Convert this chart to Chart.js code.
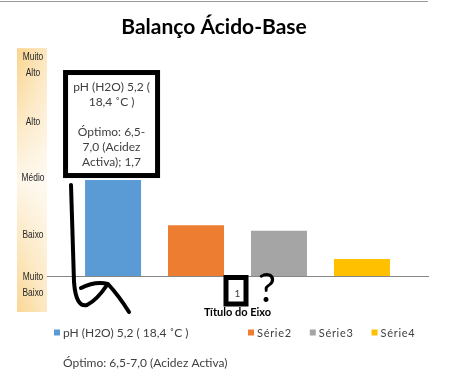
<!DOCTYPE html>
<html><head><meta charset="utf-8">
<script src="https://cdn.jsdelivr.net/npm/chart.js@4.4.0/dist/chart.umd.min.js"></script>
<style>html,body{margin:0;padding:0;background:#fff;}#wrap{width:470px;height:384px;position:relative;}</style>
</head><body><div id="wrap"><canvas id="c" width="470" height="384"></canvas></div>
<script>
const categories = ['1'];
const seriesNames = ['pH (H2O) 5,2 ( 18,4 ˚C )', 'Série2', 'Série3', 'Série4'];
const seriesNoteLine = 'Óptimo: 6,5-7,0 (Acidez Activa)';
const seriesValues = [[1.7], [0.9], [0.8], [0.3]];
const seriesColors = ['#5b9bd5', '#ed7d31', '#a5a5a5', '#ffc000'];
const levelLabels = [['Muito', 'Baixo'], ['Baixo'], ['Médio'], ['Alto'], ['Muito', 'Alto']];
const levelValues = [-0.16, 0.73, 1.73, 2.73, 3.73];
const dataLabelLines = ['pH (H2O) 5,2 (', '18,4 ˚C )', '', 'Óptimo: 6,5-', '7,0 (Acidez', 'Activa);'];
const yMin = 0, yMax = 4;

const FONT = 'Lato, "Liberation Sans", sans-serif';
const NARROW = '"Liberation Sans Narrow", "Liberation Sans", sans-serif';

const overlay = {
  id: 'overlay',
  beforeDatasetsDraw(chart) {
    const ctx = chart.ctx, a = chart.chartArea;
    // level band
    const bl = a.left - 30, br = a.left, bt = a.top - 2, bb = a.bottom + 36;
    let g = ctx.createLinearGradient(0, bt, 0, bb);
    g.addColorStop(0, '#fad48e');
    g.addColorStop(0.5, '#fef6e8');
    g.addColorStop(1, '#fad794');
    ctx.save();
    ctx.fillStyle = g;
    ctx.fillRect(bl, bt, br - bl, bb - bt);
    let h = ctx.createLinearGradient(bl, 0, br, 0);
    h.addColorStop(0, 'rgba(255,255,255,0)');
    h.addColorStop(1, 'rgba(255,255,255,0.45)');
    ctx.fillStyle = h;
    ctx.fillRect(bl, bt, br - bl, bb - bt);
    // level labels
    const y = chart.scales.y;
    ctx.fillStyle = '#262626';
    ctx.font = '10.5px ' + NARROW;
    ctx.textAlign = 'center';
    ctx.textBaseline = 'middle';
    const lx = (bl + br) / 2 + 1;
    levelLabels.forEach((lines, i) => {
      const cy = y.getPixelForValue(levelValues[i]);
      const n = lines.length;
      lines.forEach((t, j) => {
        ctx.save();
        ctx.translate(lx, cy + (j - (n - 1) / 2) * 16);
        ctx.scale(0.8, 1);
        ctx.fillText(t, 0, 0);
        ctx.restore();
      });
    });
    // top border line
    ctx.strokeStyle = '#999999';
    ctx.lineWidth = 1;
    ctx.beginPath();
    ctx.moveTo(0, 1.5); ctx.lineTo(a.right, 1.5);
    ctx.stroke();
    ctx.restore();
  },
  afterDraw(chart) {
    const ctx = chart.ctx, a = chart.chartArea;
    ctx.save();
    // data label box on first bar
    const bar = chart.getDatasetMeta(0).data[0];
    const cx = bar.x - 1.5;
    const bw = 92, bh = 103;
    const boxBottom = bar.y - 4.5;
    ctx.strokeStyle = '#000';
    ctx.lineWidth = 5;
    ctx.strokeRect(cx - bw / 2, boxBottom - bh, bw, bh);
    ctx.fillStyle = '#404040';
    ctx.font = '12px ' + FONT;
    ctx.textAlign = 'center';
    ctx.textBaseline = 'middle';
    const v = String(seriesValues[0][0]).replace('.', ',');
    const lines = dataLabelLines.slice();
    lines[lines.length - 1] += ' ' + v;
    lines.forEach((t, i) => ctx.fillText(t, cx, boxBottom - bh + 15 + i * 15));
    // box around x tick label
    const xs = chart.scales.x;
    const tx = xs.getPixelForTick(0) - 1.5;
    ctx.lineWidth = 5;
    ctx.strokeRect(tx - 10, a.bottom + 1.5, 20, 26.5);
    // question mark
    ctx.fillStyle = '#000';
    ctx.font = '40px ' + FONT;
    ctx.textAlign = 'center';
    ctx.textBaseline = 'alphabetic';
    ctx.fillText('?', tx + 31, a.bottom + 26);
    // hand-drawn arrow
    const L = a.left, B = a.bottom;
    ctx.lineWidth = 4;
    ctx.lineCap = 'round';
    ctx.lineJoin = 'round';
    ctx.beginPath();
    ctx.moveTo(L + 24, B - 91);
    ctx.lineTo(L + 27, B + 6);
    ctx.quadraticCurveTo(L + 29, B + 32, L + 40, B + 29);
    ctx.quadraticCurveTo(L + 50, B + 24, L + 60, B + 9);
    ctx.stroke();
    ctx.beginPath();
    ctx.moveTo(L + 34, B + 12);
    ctx.quadraticCurveTo(L + 48, B + 5, L + 61, B + 8);
    ctx.quadraticCurveTo(L + 72, B + 20, L + 82, B + 36);
    ctx.stroke();
    // legend
    ctx.font = '12px ' + FONT;
    ctx.textBaseline = 'middle';
    ctx.textAlign = 'left';
    const ly = 333;
    const startX = [54, 248];
    let x = startX[0];
    seriesNames.forEach((name, i) => {
      if (i === 1) { x = startX[1]; ctx.font = '11px ' + FONT; }
      ctx.fillStyle = seriesColors[i];
      ctx.fillRect(x, ly - 3.5, 6, 6);
      ctx.fillStyle = '#404040';
      ctx.letterSpacing = i === 0 ? '0px' : '0.7px';
      ctx.fillText(name, x + 9, ly);
      const w = ctx.measureText(name).width;
      if (i === 0) {
        ctx.letterSpacing = '0px';
        ctx.fillText(seriesNoteLine, x + 9, ly + 30);
      }
      x = x + 9 + w + 18;
    });
    ctx.restore();
  }
};

const datasets = seriesNames.map((name, i) => ({
  label: name,
  data: seriesValues[i],
  backgroundColor: seriesColors[i],
  borderWidth: 0,
  categoryPercentage: 0.871,
  barPercentage: 0.675
}));

new Chart(document.getElementById('c'), {
  type: 'bar',
  data: { labels: categories, datasets },
  plugins: [overlay],
  options: {
    responsive: false,
    animation: false,
    layout: { padding: { left: 0, right: 42, top: 0, bottom: 61 } },
    plugins: {
      legend: { display: false },
      tooltip: { enabled: false },
      title: {
        display: true,
        text: 'Balanço Ácido-Base',
        color: '#000',
        font: { family: FONT, size: 21, weight: 'bold' },
        padding: { top: 15, bottom: 10 }
      }
    },
    scales: {
      x: {
        grid: { display: false, drawTicks: false, tickLength: 0 },
        border: { display: true, color: '#868686', width: 1 },
        ticks: { color: '#404040', font: { family: FONT, size: 10 }, padding: 12 },
        title: {
          display: true,
          text: 'Título do Eixo',
          color: '#000',
          font: { family: FONT, size: 11, weight: 'bold' },
          padding: { top: 7, bottom: 4 }
        },
        afterFit(s) { s.height = 47; }
      },
      y: {
        display: true,
        min: yMin,
        max: yMax,
        grid: { display: false },
        border: { display: false },
        ticks: { display: false },
        afterFit(s) { s.width = 47; }
      }
    }
  }
});
</script></body></html>
